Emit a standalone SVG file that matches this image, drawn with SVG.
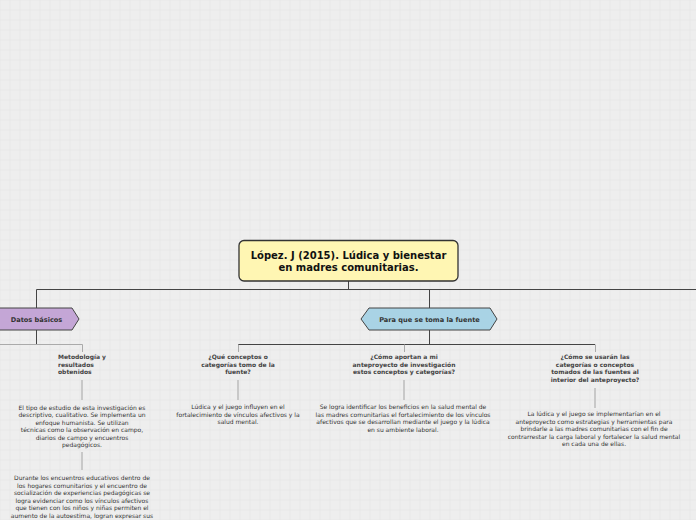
<svg xmlns="http://www.w3.org/2000/svg" width="696" height="520" viewBox="0 0 696 520">
<defs>
<pattern id="grid" width="10" height="10" patternUnits="userSpaceOnUse" x="-0.5" y="-0.5">
<path d="M0 0H10M0 0V10" fill="none" stroke="#e4e4e4" stroke-width="1"/>
</pattern>
</defs>
<style>
text{font-family:"DejaVu Sans",Verdana,sans-serif;text-anchor:middle;}
.root{font-size:10px;font-weight:bold;fill:#111;}
.main{font-size:6.6px;font-weight:bold;fill:#333;}
.sub{font-size:6px;font-weight:bold;fill:#444;}
.body{font-size:6px;fill:#333;}
.dark{fill:none;stroke:#444;stroke-width:1;}
.gray{fill:none;stroke:#aaa;stroke-width:1;}
.lite{fill:none;stroke:#c8c8c8;stroke-width:2;}
</style>
<rect width="696" height="520" fill="#eeeeee"/>
<rect width="696" height="520" fill="url(#grid)"/>
<g id="connectors">
<path class="dark" d="M348.5 281V289.5M36.5 289.5H696M36.5 289.5V308M429.5 289.5V308"/>
<path class="dark" d="M36.5 330V344.5H0M429.5 330V344.5M238 344.5H595"/>
<path class="gray" d="M0 344.5H82.5V352M238.5 344.5V352M404.5 344.5V352M595.5 344.5V352"/>
<path class="lite" d="M82 380V400M82 452V470M238 380V400M404 380V400M595 388V408"/>
</g>
<g id="root">
<rect x="239" y="240.5" width="219" height="40.5" rx="5" fill="#fff6b3" stroke="#333" stroke-width="1.3"/>
<text class="root" x="348.5" y="259">López. J (2015). Lúdica y bienestar</text>
<text class="root" x="348.5" y="271">en madres comunitarias.</text>
</g>
<g id="datos">
<path d="M-8 308H72L79 319L72 330H-8Z" fill="#c4a6d6" stroke="#444" stroke-width="1"/>
<text class="main" x="36.5" y="321.5">Datos básicos</text>
</g>
<g id="para">
<path d="M369 308H490L497 319L490 330H369L361 319Z" fill="#a9d3e5" stroke="#444" stroke-width="1"/>
<text class="main" x="429.5" y="321.5">Para que se toma la fuente</text>
</g>
<g id="metodologia">
<text class="sub" x="58" y="359" style="text-anchor:start">Metodología y</text>
<text class="sub" x="58" y="366.5" style="text-anchor:start">resultados</text>
<text class="sub" x="58" y="374" style="text-anchor:start">obtenidos</text>
</g>
<g id="tipo">
<text class="body" x="82" y="409.5">El tipo de estudio de esta investigación es</text>
<text class="body" x="82" y="417">descriptivo, cualitativo. Se implementa un</text>
<text class="body" x="82" y="424.5">enfoque humanista. Se utilizan</text>
<text class="body" x="82" y="432">técnicas como la observación en campo,</text>
<text class="body" x="82" y="439.5">diarios de campo y encuentros</text>
<text class="body" x="82" y="447">pedagógicos.</text>
</g>
<g id="durante">
<text class="body" x="82" y="480">Durante los encuentros educativos dentro de</text>
<text class="body" x="82" y="487.5">los hogares comunitarios y el encuentro de</text>
<text class="body" x="82" y="495">socialización de experiencias pedagógicas se</text>
<text class="body" x="82" y="502.5">logra evidenciar como los vínculos afectivos</text>
<text class="body" x="82" y="510">que tienen con los niños y niñas permiten el</text>
<text class="body" x="82" y="517.5">aumento de la autoestima, logran expresar sus</text>
</g>
<g id="que-conceptos">
<text class="sub" x="238" y="359">¿Qué conceptos o</text>
<text class="sub" x="238" y="366.5">categorías tomo de la</text>
<text class="sub" x="238" y="374">fuente?</text>
</g>
<g id="ludica">
<text class="body" x="238" y="409">Lúdica y el juego influyen en el</text>
<text class="body" x="238" y="416.5">fortalecimiento de vínculos afectivos y la</text>
<text class="body" x="238" y="424">salud mental.</text>
</g>
<g id="como-aportan">
<text class="sub" x="404" y="359">¿Cómo aportan a mi</text>
<text class="sub" x="404" y="366.5">anteproyecto de investigación</text>
<text class="sub" x="404" y="374">estos conceptos y categorías?</text>
</g>
<g id="se-logra">
<text class="body" x="403" y="409">Se logra identificar los beneficios en la salud mental de</text>
<text class="body" x="403" y="416.5">las madres comunitarias el fortalecimiento de los vínculos</text>
<text class="body" x="403" y="424">afectivos que se desarrollan mediante el juego y la lúdica</text>
<text class="body" x="403" y="431.5">en su ambiente laboral.</text>
</g>
<g id="como-usaran">
<text class="sub" x="595" y="359">¿Cómo se usarán las</text>
<text class="sub" x="595" y="366.5">categorías o conceptos</text>
<text class="sub" x="595" y="374">tomados de las fuentes al</text>
<text class="sub" x="595" y="381.5">interior del anteproyecto?</text>
</g>
<g id="la-ludica">
<text class="body" x="594" y="416">La lúdica y el juego se implementarían en el</text>
<text class="body" x="594" y="423.5">anteproyecto como estrategias y herramientas para</text>
<text class="body" x="594" y="431">brindarle a las madres comunitarias con el fin de</text>
<text class="body" x="594" y="438.5">contrarrestar la carga laboral y fortalecer la salud mental</text>
<text class="body" x="594" y="446">en cada una de ellas.</text>
</g>
</svg>
